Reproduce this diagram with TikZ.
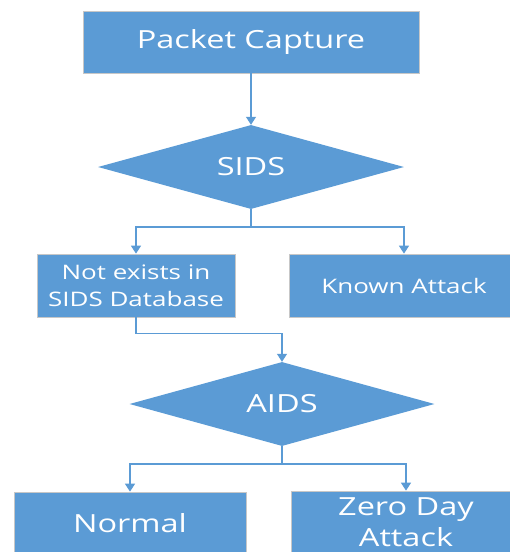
\documentclass[tikz,border=0pt]{standalone}
\usepackage{fontspec}
\setmainfont{Open Sans}
\newfontfamily\wfont[FakeStretch=1.3]{Open Sans}
\usetikzlibrary{shapes.geometric,arrows.meta}
\definecolor{ofblue}{HTML}{5B9BD5}
\tikzset{
  x=1pt,y=-1pt,
  boxshape/.style={rectangle,fill=ofblue,draw=black!22,line width=0.7pt,inner sep=0pt,text=white,align=center},
  bigtxt/.style={font=\wfont\fontsize{25}{31}\selectfont},
  smalltxt/.style={font=\wfont\fontsize{20}{27}\selectfont},
  decision/.style={diamond,fill=ofblue,inner sep=0pt,text=white,bigtxt},
  conn/.style={draw=ofblue,line width=1.2pt,-{Triangle[width=10pt,length=8pt]}},
  plainconn/.style={draw=ofblue,line width=1.2pt}
}
\begin{document}
\begin{tikzpicture}
\useasboundingbox (0,0) rectangle (510,552);
\node[boxshape,bigtxt,minimum width=336pt,minimum height=62pt] (pc) at (251,42) {Packet Capture};
\node[decision,minimum width=306pt,minimum height=84pt,aspect=3.64] (sids) at (251,167) {SIDS};
\node[boxshape,smalltxt,minimum width=198pt,minimum height=63pt] (notex) at (136,285.5) {Not exists in\\SIDS Database};
\node[boxshape,smalltxt,minimum width=230pt,minimum height=63pt] (known) at (404,285.5) {Known Attack};
\node[decision,minimum width=305pt,minimum height=84pt,aspect=3.63] (aids) at (282,404) {AIDS};
\node[boxshape,bigtxt,minimum width=232pt,minimum height=62pt] (normal) at (130,523) {Normal};
\node[boxshape,bigtxt,minimum width=230pt,minimum height=62pt] (zero) at (406,522) {Zero Day\\Attack};
\coordinate (s1) at (251,227);
\coordinate (s2) at (282,464);
\draw[conn] (pc.south) -- (sids.north);
\draw[plainconn] (sids.south) -- (s1);
\draw[conn] (s1) -| (notex.north);
\draw[conn] (s1) -| (known.north);
\draw[conn] (notex.south) -- ++(0,16) -| (aids.north);
\draw[plainconn] (aids.south) -- (s2);
\draw[conn] (s2) -| (normal.north);
\draw[conn] (s2) -| (zero.north);
\end{tikzpicture}
\end{document}
